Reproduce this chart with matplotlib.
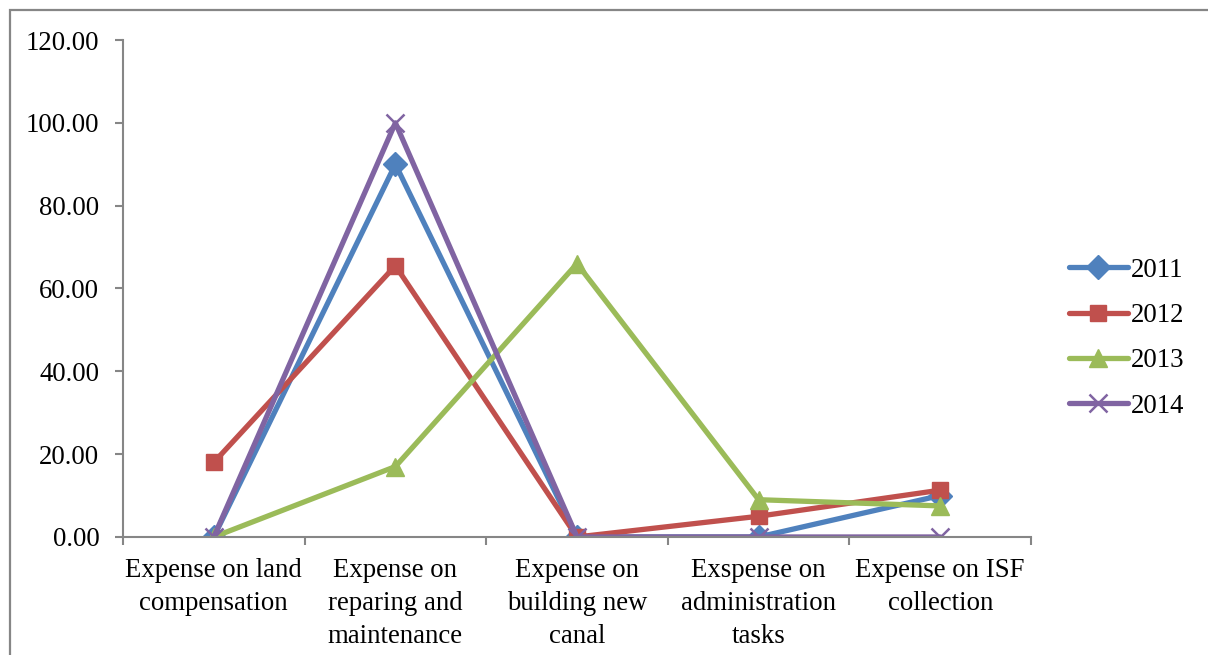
import matplotlib
matplotlib.use("Agg")
import matplotlib.pyplot as plt
from matplotlib.patches import Rectangle

# Expense categories and yearly shares
categories = [
    "Expense on land\ncompensation",
    "Expense on\nreparing and\nmaintenance",
    "Expense on\nbuilding new\ncanal",
    "Exspense on\nadministration\ntasks",
    "Expense on ISF\ncollection",
]
years = ["2011", "2012", "2013", "2014"]
y2011 = [0.0, 90.0, 0.0, 0.0, 10.0]
y2012 = [18.0, 65.5, 0.0, 5.0, 11.3]
y2013 = [0.0, 17.0, 66.0, 9.0, 7.5]
y2014 = [0.0, 100.0, 0.0, 0.0, 0.0]
yticks = [0, 20, 40, 60, 80, 100, 120]

plt.rcParams['font.family'] = ['Liberation Serif', 'DejaVu Serif']
fs = 19.3
grey = "#868686"

fig = plt.figure(figsize=(12.08, 6.55), dpi=100)
ax = fig.add_axes([0.1018, 0.1802, 0.7517, 0.7587])

styles = [
    (y2011, "#4F81BD", "D", 12),
    (y2012, "#C0504D", "s", 12),
    (y2013, "#9BBB59", "^", 13),
    (y2014, "#8064A2", "x", 13),
]
xs = list(range(len(categories)))
for (vals, col, mk, ms), lab in zip(styles, years):
    ax.plot(xs, vals, color=col, lw=3.8, marker=mk, markersize=ms,
            markeredgewidth=1.8 if mk == "x" else 1, markeredgecolor=col,
            label=lab, solid_capstyle="round", solid_joinstyle="round")

ax.set_xlim(-0.5, 4.5)
ax.set_ylim(0, 120)
ax.set_yticks(yticks)
ax.set_yticklabels([f"{v:.2f}" for v in yticks], fontsize=fs)
ax.set_xticks(xs)
ax.set_xticklabels(categories, fontsize=fs, linespacing=1.42)
ax.set_xticks([x - 0.5 for x in range(len(categories) + 1)], minor=True)
ax.tick_params(axis="x", which="major", length=0, pad=15)
ax.tick_params(axis="x", which="minor", length=6, width=1.5, color=grey, direction="out")
ax.tick_params(axis="y", length=6, width=1.5, color=grey, pad=11)

for side in ("top", "right"):
    ax.spines[side].set_visible(False)
for side in ("left", "bottom"):
    ax.spines[side].set_color(grey)
    ax.spines[side].set_linewidth(1.5)

ax.legend(loc="center left", bbox_to_anchor=(1.03, 0.4), frameon=False,
          fontsize=fs, handlelength=2.2, handletextpad=0.1, labelspacing=0.76,
          borderaxespad=0)

# outer chart frame
fig.patches.append(Rectangle((10 / 1208, -0.1), 1.2, 1 - 10 / 655 + 0.1,
                             transform=fig.transFigure, fill=False,
                             edgecolor=grey, lw=1.6))

fig.savefig("out.png", dpi=100)
